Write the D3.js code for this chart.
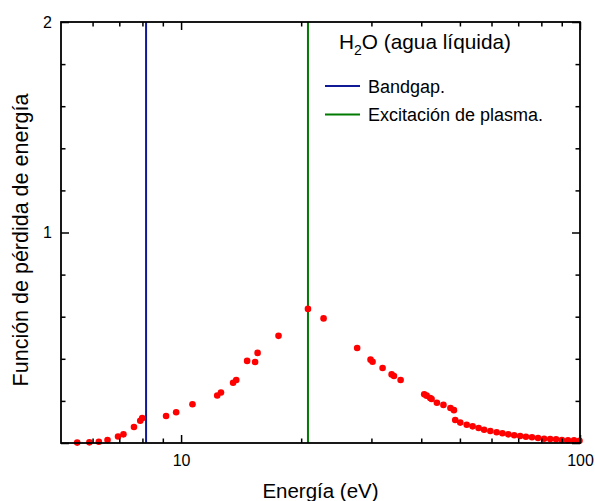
<!DOCTYPE html>
<html>
<head>
<meta charset="utf-8">
<script src="https://cdn.jsdelivr.net/npm/d3@7"></script>
<style>
  html, body { margin: 0; padding: 0; background: #fff; }
  svg { display: block; font-family: "Liberation Sans", Arial, sans-serif; }
</style>
</head>
<body>
<svg id="chart" width="595" height="501"></svg>
<script>
// Energy-loss function of liquid water vs. photon energy (eV)
const energy = [5.49, 5.89, 6.22, 6.54, 6.95, 7.17, 7.62, 7.90, 7.99, 9.17, 9.72,
  10.68, 12.32, 12.59, 13.50, 13.75, 14.64, 15.33, 15.55, 17.55, 20.8, 22.76,
  27.63, 29.85, 30.2, 32.0, 33.71, 34.17, 35.51, 40.69, 41.26, 42.12, 42.46,
  43.78, 45.46, 47.34, 48.3, 48.66,
  50.1, 52.0, 53.8, 55.7, 57.5, 59.6, 61.8, 63.9, 66.1, 68.4, 70.8, 73.2,
  75.8, 78.5, 81.3, 84.2, 87.1, 90.1, 93.3, 96.6, 99.7];
const lossFunction = [0.002, 0.003, 0.006, 0.014, 0.031, 0.041, 0.076, 0.106, 0.118, 0.128, 0.146,
  0.184, 0.226, 0.240, 0.286, 0.299, 0.390, 0.385, 0.428, 0.509, 0.637, 0.592,
  0.451, 0.396, 0.386, 0.356, 0.326, 0.318, 0.299, 0.231, 0.225, 0.214, 0.209,
  0.191, 0.181, 0.166, 0.156, 0.109,
  0.097, 0.087, 0.079, 0.071, 0.063, 0.057, 0.051, 0.046, 0.041, 0.037, 0.033, 0.030,
  0.027, 0.024, 0.020, 0.019, 0.018, 0.014, 0.013, 0.013, 0.011];

// Reference energies (eV)
const bandgapEnergy = 8.17;
const plasmaEnergy = 20.8;

const xMajorTicks = [10, 100];
const xMinorTicks = [6, 7, 8, 9, 20, 30, 40, 50, 60, 70, 80, 90];
const yMajorTicks = [0, 1, 2];
const yMinorTicks = [0.2, 0.4, 0.6, 0.8, 1.2, 1.4, 1.6, 1.8];
const yTickLabels = ["", "1", "2"];

const legendItems = [
  { label: "Bandgap.", color: "#101a96" },
  { label: "Excitación de plasma.", color: "#007a00" }
];

const margin = { left: 61, right: 15, top: 22, bottom: 58 };
const W = 595, H = 501;
const svg = d3.select("#chart");

const x = d3.scaleLog().domain([5, 100]).range([margin.left, W - margin.right]);
const y = d3.scaleLinear().domain([0, 2]).range([H - margin.bottom, margin.top]);

const x0 = x.range()[0], x1 = x.range()[1];
const y0 = y.range()[0], y1 = y.range()[1];

// Vertical reference lines
svg.append("line")
  .attr("x1", x(bandgapEnergy)).attr("x2", x(bandgapEnergy))
  .attr("y1", y1).attr("y2", y0)
  .attr("stroke", legendItems[0].color).attr("stroke-width", 2);
svg.append("line")
  .attr("x1", x(plasmaEnergy)).attr("x2", x(plasmaEnergy))
  .attr("y1", y1).attr("y2", y0)
  .attr("stroke", legendItems[1].color).attr("stroke-width", 2);

// Data points
svg.append("g").selectAll("circle")
  .data(energy.map((e, i) => [e, lossFunction[i]]))
  .join("circle")
  .attr("cx", d => x(d[0]))
  .attr("cy", d => y(d[1]))
  .attr("r", 3.3)
  .attr("fill", "#ff0000");

// Axes with inward ticks on all four sides
function styleAxis(g) {
  g.select(".domain").remove();
  g.selectAll("line").attr("stroke", "#000").attr("stroke-width", 1.5);
  g.selectAll("text").attr("fill", "#000").style("font-size", "16px")
    .style("font-family", "'Liberation Sans', Arial, sans-serif");
}

svg.append("g").attr("transform", `translate(0,${y0})`)
  .call(d3.axisBottom(x).tickValues(xMajorTicks).tickFormat(d3.format("d")).tickSize(-8).tickPadding(12))
  .call(styleAxis);
svg.append("g").attr("transform", `translate(0,${y0})`)
  .call(d3.axisBottom(x).tickValues(xMinorTicks).tickFormat("").tickSize(-4.5))
  .call(styleAxis);
svg.append("g").attr("transform", `translate(0,${y1})`)
  .call(d3.axisTop(x).tickValues(xMajorTicks).tickFormat("").tickSize(-8))
  .call(styleAxis);
svg.append("g").attr("transform", `translate(0,${y1})`)
  .call(d3.axisTop(x).tickValues(xMinorTicks).tickFormat("").tickSize(-4.5))
  .call(styleAxis);

svg.append("g").attr("transform", `translate(${x0},0)`)
  .call(d3.axisLeft(y).tickValues(yMajorTicks).tickFormat((d, i) => yTickLabels[i]).tickSize(-8).tickPadding(9))
  .call(styleAxis);
svg.append("g").attr("transform", `translate(${x0},0)`)
  .call(d3.axisLeft(y).tickValues(yMinorTicks).tickFormat("").tickSize(-4.5))
  .call(styleAxis);
svg.append("g").attr("transform", `translate(${x1},0)`)
  .call(d3.axisRight(y).tickValues(yMajorTicks).tickFormat("").tickSize(-8))
  .call(styleAxis);
svg.append("g").attr("transform", `translate(${x1},0)`)
  .call(d3.axisRight(y).tickValues(yMinorTicks).tickFormat("").tickSize(-4.5))
  .call(styleAxis);

// Frame
svg.append("rect")
  .attr("x", x0).attr("y", y1)
  .attr("width", x1 - x0).attr("height", y0 - y1)
  .attr("fill", "none").attr("stroke", "#000").attr("stroke-width", 1.8);

// Axis titles
svg.append("text")
  .attr("x", (x0 + x1) / 2).attr("y", 498)
  .attr("text-anchor", "middle")
  .style("font-size", "20.5px")
  .text("Energía (eV)");
svg.append("text")
  .attr("transform", `translate(28,240) rotate(-90)`)
  .attr("text-anchor", "middle")
  .style("font-size", "21.5px")
  .text("Función de pérdida de energía");

// Legend
const title = svg.append("text").attr("x", 339).attr("y", 49).style("font-size", "20.8px");
title.append("tspan").text("H");
title.append("tspan").attr("dy", 6).style("font-size", "14px").text("2");
title.append("tspan").attr("dy", -6).text("O (agua líquida)");

const legend = svg.append("g");
legendItems.forEach((item, i) => {
  const ly = 86 + i * 28.5;
  legend.append("line")
    .attr("x1", 325).attr("x2", 360).attr("y1", ly).attr("y2", ly)
    .attr("stroke", item.color).attr("stroke-width", 2);
  legend.append("text")
    .attr("x", 368).attr("y", ly + 6.5)
    .style("font-size", "18px")
    .text(item.label);
});
</script>
</body>
</html>
